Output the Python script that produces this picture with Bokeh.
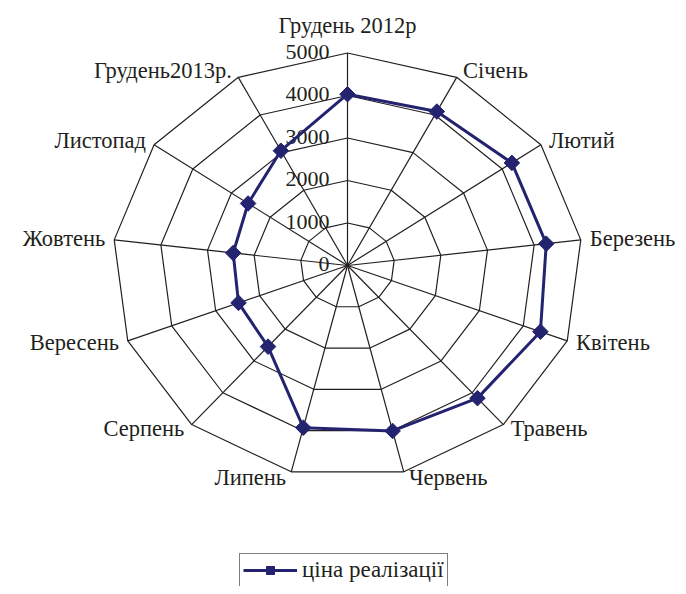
import numpy as np
from bokeh.plotting import figure
from bokeh.models import Range1d, Legend, LegendItem, ColumnDataSource
from bokeh.core.properties import value
from bokeh.embed import file_html
from bokeh.resources import INLINE

# ---- data ----
categories = ["Грудень 2012р", "Січень", "Лютий", "Березень", "Квітень", "Травень",
              "Червень", "Липень", "Серпень", "Вересень", "Жовтень", "Листопад",
              "Грудень2013р."]
prices = [4030, 4090, 4250, 4260, 4390, 4170, 4010, 3930, 2550, 2480, 2450, 2570, 3050]
ticks = [0, 1000, 2000, 3000, 4000, 5000]
tick_labels = ["0", "1000", "2000", "3000", "4000", "5000"]
series_name = "ціна реалізації"

# ---- layout ----
W, H = 678, 586
RX_PX, RY_PX = 235.0, 212.5          # pixel radius of outer ring (x, y)
CX_PX, CY_PX = 347.0, 265.0          # centre in pixels from left / top
RMAX = ticks[-1]
sx = RX_PX / RMAX
sy = RY_PX / RMAX
x_range = Range1d(-CX_PX / sx, (W - CX_PX) / sx)
y_range = Range1d(-(H - CY_PX) / sy, CY_PX / sy)

FONT = "Liberation Serif"
GRID = "#231F20"
SERIES = "#23236F"

p = figure(width=W, height=H, x_range=x_range, y_range=y_range,
           output_backend="svg", toolbar_location=None, min_border=0,
           x_axis_location=None, y_axis_location=None)
p.grid.visible = False
p.outline_line_color = None
p.background_fill_color = "white"

n = len(categories)
ang = 2 * np.pi * np.arange(n) / n
s, c = np.sin(ang), np.cos(ang)

# rings
ring_xs, ring_ys = [], []
for t in ticks[1:]:
    ring_xs.append(list(np.append(t * s, t * s[0])))
    ring_ys.append(list(np.append(t * c, t * c[0])))
p.multi_line(ring_xs, ring_ys, line_color=GRID, line_width=1.2)
# spokes
p.segment(x0=np.zeros(n), y0=np.zeros(n), x1=RMAX * s, y1=RMAX * c,
          line_color=GRID, line_width=1.2)

# tick labels
p.text(x=np.zeros(len(ticks)), y=np.array(ticks, dtype=float), text=tick_labels,
       text_font=value(FONT), text_font_size="22px", text_color=GRID,
       text_align="right", text_baseline="middle", x_offset=-18, y_offset=-1.5)

# category labels
xo, yo, al = [], [], []
for i in range(n):
    si, ci = s[i], c[i]
    if abs(si) < 1e-6:
        xo.append(0.0); yo.append(-28.0); al.append("center")
    else:
        sign = 1 if si > 0 else -1
        xo.append(sign * (4 + 5 * abs(si)))
        yo.append(-6.5 * ci - 1.0)
        al.append("left" if si > 0 else "right")
lab_src = ColumnDataSource(dict(x=RMAX * s, y=RMAX * c, t=categories, xo=xo, yo=yo, al=al))
p.text(x="x", y="y", text="t", source=lab_src, x_offset="xo", y_offset="yo",
       text_align="al", text_baseline="alphabetic", text_font=value(FONT),
       text_font_size="22.5px", text_color=GRID)

# series
vals = np.array(prices, dtype=float)
dx = np.append(vals * s, vals[0] * s[0])
dy = np.append(vals * c, vals[0] * c[0])
ln = p.line(dx, dy, line_color=SERIES, line_width=3)
sc = p.scatter(vals * s, vals * c, marker="square", angle=np.pi / 4, size=11,
               fill_color=SERIES, line_color=SERIES)

legend = Legend(items=[LegendItem(label=series_name, renderers=[ln, sc])],
                location=(239, -1), border_line_color="black", border_line_width=1,
                label_text_font=FONT, label_text_font_size="23px", label_text_color=GRID,
                label_height=26, glyph_width=54, glyph_height=20, padding=3, margin=0,
                label_standoff=5, background_fill_alpha=1.0)
p.add_layout(legend)

open("out.html", "w").write(file_html(p, INLINE))
